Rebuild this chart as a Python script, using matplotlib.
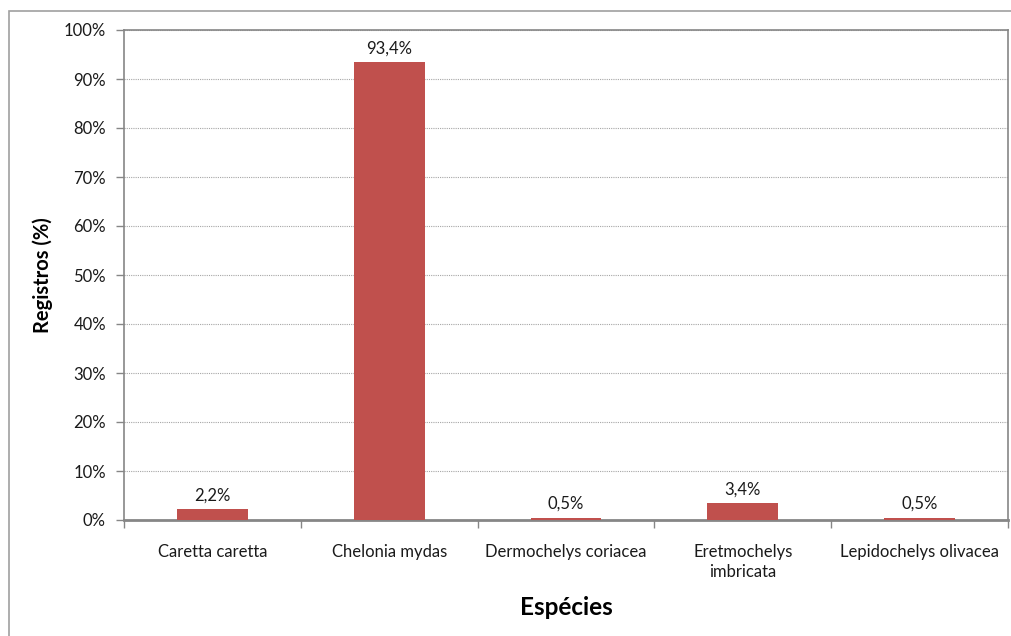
import matplotlib.pyplot as plt
from matplotlib.patches import Rectangle
from matplotlib.ticker import FuncFormatter, MultipleLocator

species = ['Caretta caretta', 'Chelonia mydas', 'Dermochelys coriacea',
           'Eretmochelys\nimbricata', 'Lepidochelys olivacea']
registros = [2.2, 93.4, 0.5, 3.4, 0.5]
value_labels = ['2,2%', '93,4%', '0,5%', '3,4%', '0,5%']

plt.rcParams['font.family'] = ['Lato', 'DejaVu Sans']
axis_grey = '#868686'
text_col = '#1a1a1a'

W, H = 1011, 636
fig = plt.figure(figsize=(W / 100, H / 100), dpi=100)

# outer chart border, running off the right and bottom edges
fig.patches.append(Rectangle((9 / W, -0.1), 1.2, 1 - 11 / H + 0.1,
                             transform=fig.transFigure, fill=False,
                             edgecolor='#a0a0a0', linewidth=1.2))

left, right, top, bottom = 124, 1008, 30, 520
ax = fig.add_axes([left / W, 1 - bottom / H, (right - left) / W, (bottom - top) / H])

x = range(len(species))
ax.bar(x, registros, width=0.4, color='#C0504D', zorder=3)
for xi, v, lab in zip(x, registros, value_labels):
    ax.annotate(lab, (xi, v), xytext=(0, 4), textcoords='offset points',
                ha='center', va='bottom', fontsize=12, color=text_col)

ax.set_xlim(-0.5, len(species) - 0.5)
ax.set_ylim(0, 100)
ax.yaxis.set_major_locator(MultipleLocator(10))
ax.yaxis.set_major_formatter(FuncFormatter(lambda v, p: f'{v:.0f}%'))
ax.set_xticks(list(x))
ax.set_xticklabels(species, fontsize=12, color=text_col, linespacing=1.3)
ax.set_xticks([i + 0.5 for i in range(-1, len(species))], minor=True)
ax.tick_params(axis='x', which='major', length=0, pad=17)
ax.tick_params(axis='x', which='minor', length=6, color=axis_grey, width=1)
ax.tick_params(axis='y', length=6, color=axis_grey, width=1, labelsize=12,
               labelcolor=text_col, pad=7)

ax.grid(axis='y', linestyle=(0, (1, 1)), color='#a6a6a6', linewidth=0.8, zorder=0)
for side in ['top', 'right', 'left']:
    ax.spines[side].set_color(axis_grey)
    ax.spines[side].set_linewidth(1.2)
ax.spines['bottom'].set_color(axis_grey)
ax.spines['bottom'].set_linewidth(2)

ax.set_ylabel('Registros (%)', fontsize=14.5, fontweight='bold', labelpad=8)
ax.set_xlabel('Espécies', fontsize=17.5, fontweight='bold', labelpad=12)

fig.savefig('out.png', dpi=100)
